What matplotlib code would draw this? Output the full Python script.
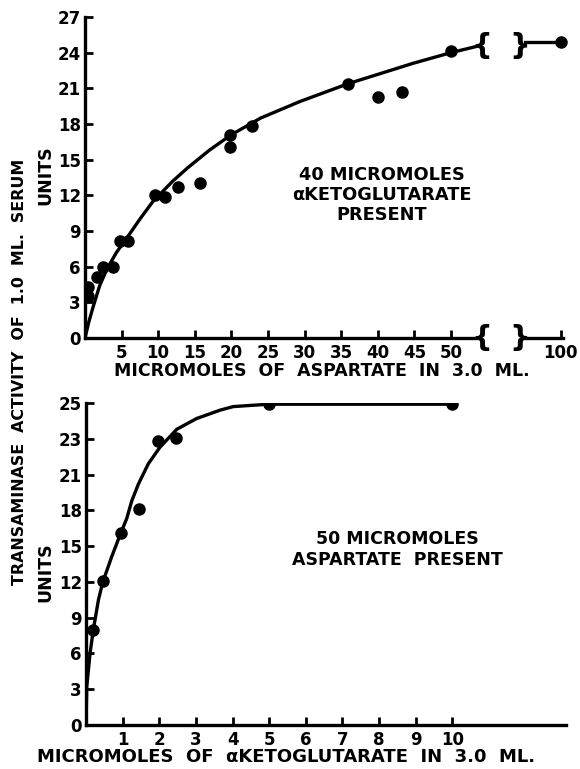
import matplotlib
matplotlib.use("Agg")
import matplotlib.pyplot as plt

plt.rcParams['font.family'] = ['DejaVu Sans']
plt.rcParams['font.weight'] = 'bold'

# ---- top panel: aspartate varied (40 umol alpha-ketoglutarate) ----
asp_x = [0.4, 0.4, 1.6, 2.5, 3.8, 4.8, 5.9, 9.6, 10.9, 12.7, 15.7, 19.8, 19.8, 22.8, 35.9, 40.0, 43.3, 50.0]
asp_y = [4.3, 3.5, 5.1, 6.0, 6.0, 8.2, 8.2, 12.0, 11.9, 12.7, 13.0, 17.1, 16.1, 17.8, 21.4, 20.3, 20.7, 24.1]
# the 100 umol point sits past the axis break
asp_far_x = [100]
asp_far_y = [24.9]

# hand drawn curve
asp_curve_x = [0, 0.5, 1.1, 2.0, 3.0, 4.3, 5.7, 7.5, 9.3, 12, 14, 17, 20, 24, 29.4, 36, 44.8, 50, 54]
asp_curve_y = [0, 1.3, 2.6, 4.4, 5.8, 7.2, 8.4, 10.0, 11.5, 13.2, 14.3, 15.8, 17.1, 18.5, 19.9, 21.4, 23.1, 24.0, 24.6]

asp_ticks = [5, 10, 15, 20, 25, 30, 35, 40, 45, 50, 100]
asp_yticks = [0, 3, 6, 9, 12, 15, 18, 21, 24, 27]

# ---- bottom panel: alpha-ketoglutarate varied (50 umol aspartate) ----
kg_x = [0.18, 0.46, 0.95, 1.45, 1.96, 2.46, 5.0, 10.0]
kg_y = [8.0, 12.1, 16.1, 18.1, 23.8, 24.1, 26.9, 26.9]

kg_curve_x = [0, 0.02, 0.11, 0.2, 0.34, 0.46, 0.7, 0.95, 1.11, 1.25, 1.43, 1.7, 2.02, 2.48, 3.02, 3.66, 4.02, 5.0, 10.0]
kg_curve_y = [0, 3.2, 6.0, 8.0, 10.5, 12.0, 14.1, 16.1, 17.3, 18.8, 20.2, 21.9, 23.3, 24.8, 25.7, 26.4, 26.7, 26.9, 26.9]

kg_xticks = [1, 2, 3, 4, 5, 6, 7, 8, 9, 10]
# the printed labels on the lower axis (evenly spaced ticks, last two read 23 and 25)
kg_ytick_pos = [0, 3, 6, 9, 12, 15, 18, 21, 24, 27]
kg_ytick_lab = ['0', '3', '6', '9', '12', '15', '18', '21', '23', '25']

BREAK_LO = 54.0
BREAK_HI = 59.4
FAR_POS = 65.0   # where "100" is drawn


def far(x):
    # position on the broken axis for values beyond the break
    return [FAR_POS for v in x]


fig = plt.figure(figsize=(5.8, 7.69), dpi=100)
W, H = 580.0, 769.0

LW = 2.4
tick_kw = dict(direction='in', length=6, width=2, labelsize=12, colors='black')


def style(ax):
    for s in ['top', 'right']:
        ax.spines[s].set_visible(False)
    for s in ['left', 'bottom']:
        ax.spines[s].set_linewidth(LW)
    ax.tick_params(axis='both', **tick_kw)
    ax.tick_params(axis='x', pad=4)
    ax.tick_params(axis='y', pad=3)
    for lab in ax.get_xticklabels() + ax.get_yticklabels():
        lab.set_fontweight('bold')


# top axes
ax1 = fig.add_axes([85 / W, 1 - 338 / H, 483 / W, 321 / H])
ax1.set_xlim(0, 66)
ax1.set_ylim(0, 27)
ax1.plot(asp_curve_x, asp_curve_y, color='black', lw=LW, solid_capstyle='round')
ax1.plot([BREAK_HI + 0.7, FAR_POS], [asp_far_y[0], asp_far_y[0]], color='black', lw=LW)
ax1.plot(asp_x, asp_y, 'o', color='black', ms=8)
ax1.plot(far(asp_far_x), asp_far_y, 'o', color='black', ms=8, clip_on=False)
ax1.set_xticks([t if t <= 50 else FAR_POS for t in asp_ticks])
ax1.set_xticklabels([str(t) for t in asp_ticks])
ax1.set_yticks(asp_yticks)
ax1.set_yticklabels([str(t) for t in asp_yticks])
style(ax1)
ax1.spines['bottom'].set_bounds(0, BREAK_LO)
ax1.plot([BREAK_HI + 0.7, FAR_POS + 0.3], [0, 0], color='black', lw=LW, clip_on=False)
for yy in [0, 24.6]:
    ax1.text(BREAK_LO + 0.2, yy, '{', fontsize=21, fontweight='bold', ha='center', va='center')
    ax1.text(BREAK_HI, yy, '}', fontsize=21, fontweight='bold', ha='center', va='center')
ax1.text(0.615, 0.445, '40 MICROMOLES\nαKETOGLUTARATE\nPRESENT', transform=ax1.transAxes,
         ha='center', va='center', fontsize=12.8, fontweight='bold', linespacing=1.15)

# bottom axes
ax2 = fig.add_axes([86 / W, 1 - 725 / H, 480 / W, 322 / H])
ax2.set_xlim(0, 13.1)
ax2.set_ylim(0, 27)
ax2.plot(kg_curve_x, kg_curve_y, color='black', lw=LW)
ax2.plot(kg_x, kg_y, 'o', color='black', ms=8)
ax2.set_xticks(kg_xticks)
ax2.set_xticklabels([str(t) for t in kg_xticks])
ax2.set_yticks(kg_ytick_pos)
ax2.set_yticklabels(kg_ytick_lab)
style(ax2)
ax2.text(0.648, 0.545, '50 MICROMOLES\nASPARTATE  PRESENT', transform=ax2.transAxes,
         ha='center', va='center', fontsize=12.5, fontweight='bold', linespacing=1.15)

# axis titles
fig.text(322 / W, 1 - 371 / H, 'MICROMOLES  OF  ASPARTATE  IN  3.0  ML.',
         ha='center', va='center', fontsize=12.5, fontweight='bold')
fig.text(286 / W, 1 - 757 / H, 'MICROMOLES  OF  αKETOGLUTARATE  IN  3.0  ML.',
         ha='center', va='center', fontsize=13, fontweight='bold')
fig.text(20 / W, 1 - 372 / H, 'TRANSAMINASE  ACTIVITY  OF  1.0  ML.  SERUM',
         ha='center', va='center', rotation=90, fontsize=11.4, fontweight='bold')
fig.text(45 / W, 1 - 175 / H, 'UNITS', ha='center', va='center', rotation=90,
         fontsize=12.5, fontweight='bold')
fig.text(45 / W, 1 - 572 / H, 'UNITS', ha='center', va='center', rotation=90,
         fontsize=12.5, fontweight='bold')

fig.savefig('out.png', dpi=100)
